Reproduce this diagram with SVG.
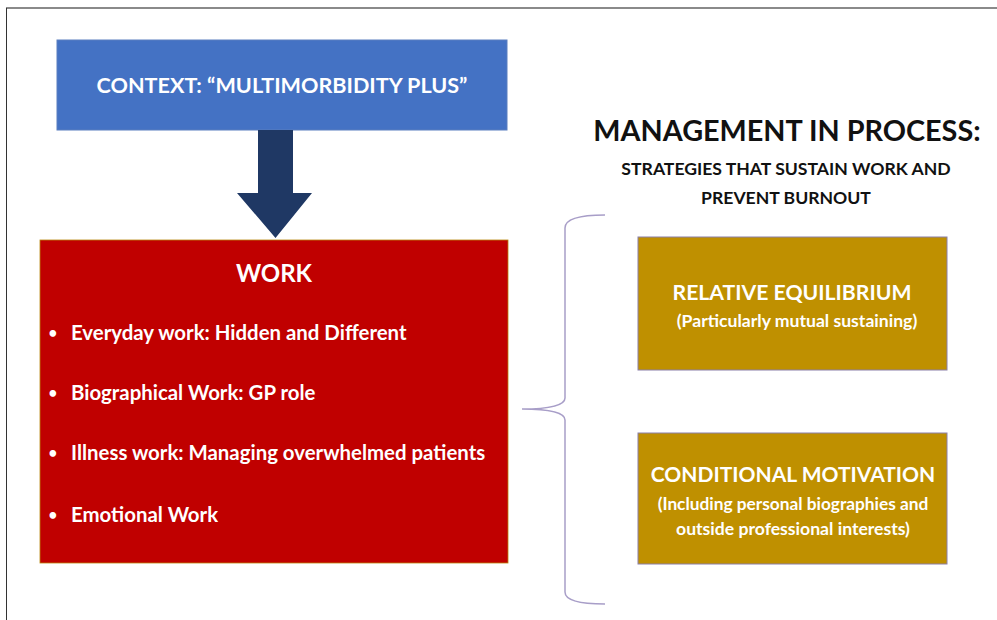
<svg xmlns="http://www.w3.org/2000/svg" width="997" height="620" viewBox="0 0 997 620">
<style>
.t{font-family:Lato,"Liberation Sans",sans-serif;font-weight:bold}
.w{fill:#ffffff}
.k{fill:#111111}
.gold{fill:#BF9000;stroke:#8A7FA8;stroke-width:1}
</style>
<rect x="0" y="0" width="997" height="620" fill="#ffffff"/>
<line x1="6" y1="8" x2="997" y2="8" stroke="#8a8a8a" stroke-width="2"/>
<line x1="6.5" y1="8" x2="6.5" y2="620" stroke="#333" stroke-width="1"/>
<g id="context">
<rect x="57" y="40" width="450" height="90" fill="#4472C4" stroke="#5B7FBF" stroke-width="1"/>
<text class="t w" x="282" y="93" font-size="21.6" text-anchor="middle">CONTEXT: “MULTIMORBIDITY PLUS”</text>
</g>
<g id="connectors">
<polygon points="258,130 293,130 293,193 312,193 275.5,238 237,193 258,193" fill="#1F3864"/>
<path d="M605,215 C585,215 565,217 565,228 L565,398 C565,405 550,409 522,409 C550,409 565,413 565,420 L565,592 C565,602 585,604 605,604" fill="none" stroke="#A89EC8" stroke-width="1.5"/>
</g>
<g id="work">
<rect x="40" y="240" width="468" height="323" fill="#C00000" stroke="#B8860B" stroke-width="0.8"/>
<text class="t w" x="274" y="282" font-size="24" text-anchor="middle">WORK</text>
<g class="t w" font-size="20.4">
<text x="48.5" y="338" font-size="15">•</text><text x="71" y="340">Everyday work: Hidden and Different</text>
<text x="48.5" y="398" font-size="15">•</text><text x="71" y="400">Biographical Work: GP role</text>
<text x="48.5" y="458" font-size="15">•</text><text x="71" y="460">Illness work: Managing overwhelmed patients</text>
<text x="48.5" y="520" font-size="15">•</text><text x="71" y="522">Emotional Work</text>
</g>
</g>
<g id="heading">
<text class="t k" x="787" y="141" font-size="28.8" text-anchor="middle">MANAGEMENT IN PROCESS:</text>
<text class="t k" x="786" y="175" font-size="17.6" text-anchor="middle">STRATEGIES THAT SUSTAIN WORK AND</text>
<text class="t k" x="786" y="204" font-size="17.6" text-anchor="middle">PREVENT BURNOUT</text>
</g>
<g id="equilibrium">
<rect class="gold" x="638" y="237" width="309" height="133"/>
<text class="t w" x="792" y="300" font-size="21.2" text-anchor="middle">RELATIVE EQUILIBRIUM</text>
<text class="t w" x="797" y="327" font-size="17.6" text-anchor="middle">(Particularly mutual sustaining)</text>
</g>
<g id="motivation">
<rect class="gold" x="638" y="433" width="309" height="131"/>
<text class="t w" x="793" y="482" font-size="21" text-anchor="middle">CONDITIONAL MOTIVATION</text>
<text class="t w" x="793" y="510" font-size="17.3" text-anchor="middle">(Including personal biographies and</text>
<text class="t w" x="793" y="535" font-size="17.6" text-anchor="middle">outside professional interests)</text>
</g>
</svg>
